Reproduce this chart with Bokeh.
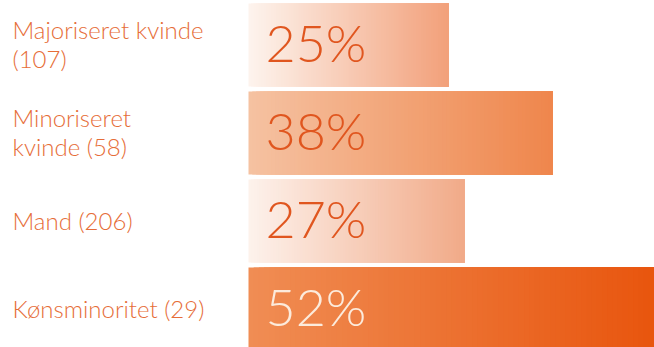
from bokeh.plotting import figure
from bokeh.models import Range1d, ColumnDataSource
from bokeh.core.properties import value
from bokeh.embed import file_html
from bokeh.resources import INLINE

# ---- data ----
categories = ["Majoriseret kvinde\n(107)", "Minoriseret\nkvinde (58)", "Mand (206)", "Kønsminoritet (29)"]
percents = [25, 38, 27, 52]
pct_labels = ["25%", "38%", "27%", "52%"]

# ---- styles ----
grad_start = ["#fdf4ee", "#f5c2a2", "#fdf2ec", "#f08d54"]
grad_end = ["#f2a07a", "#ef864c", "#f1aa88", "#e8540c"]
pct_colors = ["#e0561f", "#e0561f", "#e0561f", "#fcebdc"]
label_color = "#e66d38"
FONT = "Lato Light, Lato"
N = 80
BAR_H = 83 / 88

W, H = 654, 347
PX_X, ORIGIN_X = 8.0, 248.0      # px per percent, bar start
PX_Y, FIRST_Y = 88.0, 44.5       # px per row, first row centre


def hex2rgb(h):
    h = h.lstrip("#")
    return tuple(int(h[i:i + 2], 16) for i in (0, 2, 4))


def mix(c1, c2, t):
    a, b = hex2rgb(c1), hex2rgb(c2)
    return "#%02x%02x%02x" % tuple(int(round(a[j] + (b[j] - a[j]) * t)) for j in range(3))


p = figure(width=W, height=H, output_backend="svg", toolbar_location=None,
           x_range=Range1d(-ORIGIN_X / PX_X, (W - ORIGIN_X) / PX_X),
           y_range=Range1d((H - FIRST_Y) / PX_Y, -FIRST_Y / PX_Y),
           min_border=0, x_axis_location=None, y_axis_location=None,
           background_fill_color="white", border_fill_color="white")
p.outline_line_color = None
p.grid.visible = False

L, R, T, B, C = [], [], [], [], []
for i, v in enumerate(percents):
    for k in range(N):
        t = (k + 0.5) / N
        L.append(v * k / N)
        R.append(v)
        T.append(i - BAR_H / 2)
        B.append(i + BAR_H / 2)
        C.append(mix(grad_start[i], grad_end[i], t))
p.quad(left=L, right=R, top=T, bottom=B, fill_color=C, line_color=None)

idx = list(range(len(categories)))
src = ColumnDataSource(dict(y=idx, cat=categories, pct=pct_labels,
                            x0=[0] * len(idx), xl=[-ORIGIN_X / PX_X] * len(idx), pc=pct_colors))
p.text(x="x0", y="y", text="pct", source=src, x_offset=17, y_offset=-3,
       text_font=value(FONT), text_font_size="52px", text_color="pc",
       text_baseline="middle", text_align="left")
p.text(x="xl", y="y", text="cat", source=src, x_offset=12, y_offset=-1,
       text_font=value(FONT), text_font_size="24px", text_color=label_color,
       text_baseline="middle", text_align="left", text_line_height=1.02)

open("out.html", "w").write(file_html(p, INLINE))
